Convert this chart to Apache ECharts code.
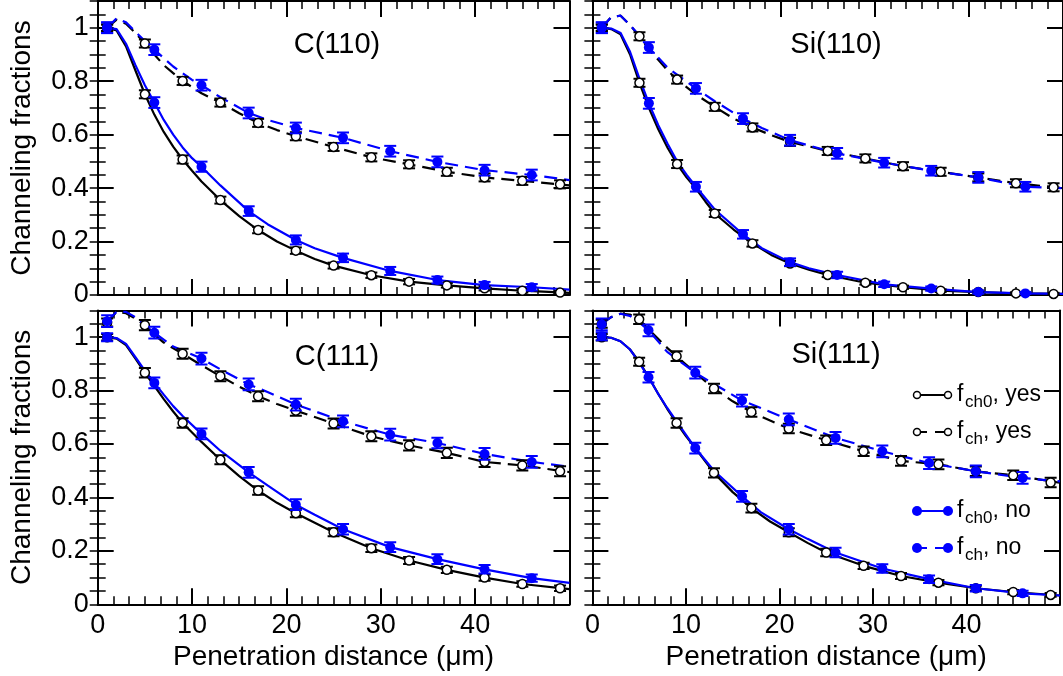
<!DOCTYPE html>
<html><head><meta charset="utf-8">
<script src="https://cdn.jsdelivr.net/npm/echarts@6/dist/echarts.min.js"></script>
<style>html,body{margin:0;padding:0;background:#fff}#c{width:1063px;height:676px}</style>
</head><body><div id="c"></div>
<script>
// ---------- DATA ----------
const panelTitles = ['C(110)', 'Si(110)', 'C(111)', 'Si(111)'];
const xAxisTitle = 'Penetration distance (\u03bcm)';
const yAxisTitle = 'Channeling fractions';
const legendSub = ['ch0', 'ch', 'ch0', 'ch'];
const legendWord = ['yes', 'yes', 'no', 'no'];

// markers: [x, y, err]
const c110_ch0Yes = [[1,1.000,.012],[5,.751,.015],[9,.507,.015],[13,.355,.013],[17,.243,.012],[21,.166,.012],[25,.110,.011],[29,.074,.010],[33,.050,.010],[37,.036,.008],[41,.025,.008],[45,.016,.007],[49,.009,.006]];
const c110_chYes  = [[1,1.000,.012],[5,.941,.015],[9,.801,.015],[13,.720,.015],[17,.644,.015],[21,.594,.015],[25,.554,.015],[29,.515,.015],[33,.489,.015],[37,.461,.015],[41,.440,.015],[45,.427,.015],[49,.414,.015]];
const c110_ch0No  = [[1,1.000,.020],[6,.720,.020],[11,.480,.019],[16,.314,.018],[21,.206,.017],[26,.139,.016],[31,.090,.015],[36,.056,.013],[41,.037,.012],[46,.029,.012]];
const c110_chNo   = [[1,1.000,.020],[6,.918,.020],[11,.785,.020],[16,.681,.020],[21,.625,.020],[26,.588,.020],[31,.538,.020],[36,.498,.020],[41,.467,.020],[46,.449,.020]];

const si110_ch0Yes = [[1,1.000,.012],[5,.794,.015],[9,.490,.015],[13,.305,.013],[17,.193,.012],[21,.118,.010],[25,.075,.008],[29,.046,.007],[33,.029,.006],[37,.016,.005],[41,.011,.005],[45,.006,.004],[49,.004,.004]];
const si110_chYes  = [[1,1.000,.012],[5,.968,.015],[9,.806,.015],[13,.704,.015],[17,.627,.015],[21,.573,.015],[25,.539,.015],[29,.511,.015],[33,.482,.015],[37,.461,.015],[41,.440,.015],[45,.418,.015],[49,.403,.015]];
const si110_ch0No  = [[1,1.000,.020],[6,.717,.020],[11,.405,.018],[16,.227,.016],[21,.123,.014],[26,.075,.012],[31,.040,.010],[36,.024,.008],[41,.011,.006],[46,.006,.005]];
const si110_chNo   = [[1,1.000,.020],[6,.926,.020],[11,.773,.020],[16,.660,.020],[21,.579,.020],[26,.530,.020],[31,.495,.018],[36,.465,.018],[41,.440,.020],[46,.405,.018]];

const c111_ch0Yes = [[1,1.000,.012],[5,.867,.018],[9,.679,.018],[13,.541,.017],[17,.426,.016],[21,.341,.015],[25,.270,.015],[29,.210,.014],[33,.164,.013],[37,.129,.012],[41,.100,.012],[45,.076,.010],[49,.060,.010]];
const c111_chYes  = [[1,1.055,.015],[5,1.045,.019],[9,.938,.019],[13,.854,.019],[17,.779,.019],[21,.725,.019],[25,.677,.019],[29,.629,.019],[33,.595,.019],[37,.567,.019],[41,.533,.019],[45,.520,.019],[49,.498,.019]];
const c111_ch0No  = [[1,1.000,.015],[6,.829,.020],[11,.638,.020],[16,.494,.020],[21,.373,.020],[26,.281,.020],[31,.214,.018],[36,.169,.018],[41,.131,.016],[46,.098,.014]];
const c111_chNo   = [[1,1.060,.022],[6,1.017,.022],[11,.920,.022],[16,.823,.022],[21,.748,.022],[26,.685,.022],[31,.635,.022],[36,.604,.020],[41,.563,.022],[46,.533,.022]];

const si111_ch0Yes = [[1,1.000,.012],[5,.908,.015],[9,.679,.018],[13,.492,.017],[17,.360,.016],[21,.270,.015],[25,.194,.014],[29,.144,.012],[33,.106,.011],[37,.081,.010],[41,.060,.009],[45,.046,.008],[49,.035,.007]];
const si111_chYes  = [[1,1.050,.015],[5,1.067,.018],[9,.929,.018],[13,.808,.018],[17,.720,.018],[21,.658,.018],[25,.614,.018],[29,.573,.018],[33,.537,.018],[37,.524,.018],[41,.498,.018],[45,.483,.018],[49,.456,.018]];
const si111_ch0No  = [[1,1.004,.015],[6,.850,.020],[11,.585,.020],[16,.404,.020],[21,.281,.020],[26,.194,.018],[31,.134,.016],[36,.094,.014],[41,.060,.012],[46,.041,.010]];
const si111_chNo   = [[1,1.048,.022],[6,1.026,.022],[11,.867,.022],[16,.763,.022],[21,.692,.022],[26,.623,.022],[31,.573,.022],[36,.529,.022],[41,.498,.022],[46,.473,.022]];

// curves: [x, y]
const c110_ch0YesLine = [[1,1.0],[2,.99],[3,.93],[4,.84],[5,.751],[6,.675],[7,.61],[8,.555],[9,.507],[10,.465],[11,.425],[12,.39],[13,.355],[15,.295],[17,.243],[19,.2],[21,.166],[23,.135],[25,.11],[29,.074],[33,.05],[37,.036],[41,.025],[45,.016],[50,.008]];
const c110_chYesLine  = [[1,1.0],[2,1.03],[3,1.015],[4,.98],[5,.941],[6,.9],[7,.86],[8,.83],[9,.801],[11,.755],[13,.72],[15,.68],[17,.644],[19,.617],[21,.594],[25,.554],[29,.515],[33,.489],[37,.461],[41,.44],[45,.427],[50,.41]];
const c110_ch0NoLine  = [[1,1.0],[2,.995],[3,.94],[4,.86],[5,.785],[6,.72],[7,.655],[8,.6],[9,.552],[10,.512],[11,.48],[13,.41],[16,.314],[18,.265],[21,.206],[23,.175],[26,.139],[31,.09],[36,.056],[41,.037],[46,.029],[50,.02]];
const c110_chNoLine   = [[1,1.0],[2,1.035],[3,1.02],[4,.985],[5,.95],[6,.918],[8,.855],[10,.805],[11,.785],[13,.74],[16,.681],[18,.655],[21,.625],[26,.588],[31,.538],[36,.498],[41,.467],[46,.449],[50,.43]];

const si110_ch0YesLine = [[1,1.0],[2,.995],[3,.975],[4,.9],[5,.794],[6,.7],[7,.62],[8,.55],[9,.49],[10,.44],[11,.398],[12,.35],[13,.305],[15,.245],[17,.193],[19,.15],[21,.118],[23,.095],[25,.075],[29,.046],[33,.029],[37,.016],[41,.011],[45,.006],[50,.004]];
const si110_chYesLine  = [[1,1.0],[2,1.04],[3,1.045],[4,1.01],[5,.968],[6,.92],[7,.88],[8,.84],[9,.806],[11,.75],[13,.704],[15,.66],[17,.627],[19,.598],[21,.573],[25,.539],[29,.511],[33,.482],[37,.461],[41,.44],[45,.418],[50,.4]];
const si110_ch0NoLine  = [[1,1.0],[2,.997],[3,.98],[4,.91],[5,.81],[6,.717],[7,.635],[8,.565],[9,.5],[10,.45],[11,.405],[13,.32],[16,.227],[18,.175],[21,.123],[23,.1],[26,.075],[31,.04],[36,.024],[41,.011],[46,.006],[50,.004]];
const si110_chNoLine   = [[1,1.0],[2,1.04],[3,1.045],[4,1.01],[5,.97],[6,.926],[8,.85],[11,.773],[13,.725],[16,.66],[18,.625],[21,.579],[26,.53],[31,.495],[36,.465],[41,.44],[46,.405],[50,.4]];

const c111_ch0YesLine = [[1,1.0],[2,.995],[3,.97],[4,.92],[5,.867],[6,.818],[7,.768],[8,.722],[9,.679],[11,.608],[13,.541],[15,.48],[17,.426],[19,.38],[21,.341],[25,.27],[29,.21],[33,.164],[37,.129],[41,.1],[45,.076],[50,.057]];
const c111_chYesLine  = [[1,1.055],[2,1.095],[3,1.09],[4,1.07],[5,1.045],[6,1.01],[7,.98],[9,.938],[11,.895],[13,.854],[15,.815],[17,.779],[19,.75],[21,.725],[25,.677],[29,.629],[33,.595],[37,.567],[41,.533],[45,.52],[50,.495]];
const c111_ch0NoLine  = [[1,1.0],[2,.997],[3,.975],[4,.925],[5,.875],[6,.829],[7,.785],[8,.742],[9,.705],[11,.638],[13,.575],[16,.494],[18,.445],[21,.373],[23,.335],[26,.281],[31,.214],[36,.169],[41,.131],[46,.098],[50,.08]];
const c111_chNoLine   = [[1,1.06],[2,1.095],[3,1.095],[4,1.075],[5,1.045],[6,1.017],[8,.965],[11,.92],[13,.88],[16,.823],[18,.795],[21,.748],[26,.685],[31,.635],[36,.604],[41,.563],[46,.533],[50,.515]];

const si111_ch0YesLine = [[1,1.0],[2,.998],[3,.985],[4,.955],[5,.908],[6,.852],[7,.79],[8,.732],[9,.679],[10,.63],[11,.585],[13,.492],[15,.42],[17,.36],[19,.31],[21,.27],[23,.23],[25,.194],[29,.144],[33,.106],[37,.081],[41,.06],[45,.046],[50,.033]];
const si111_chYesLine  = [[1,1.05],[2,1.075],[3,1.088],[4,1.085],[5,1.067],[6,1.03],[7,.995],[8,.96],[9,.929],[11,.867],[13,.808],[15,.76],[17,.72],[19,.688],[21,.658],[25,.614],[29,.573],[33,.537],[37,.524],[41,.498],[45,.483],[50,.455]];
const si111_ch0NoLine  = [[1,1.0],[2,.998],[3,.985],[4,.955],[5,.905],[6,.85],[7,.79],[8,.735],[9,.685],[11,.585],[13,.5],[16,.404],[18,.345],[21,.281],[23,.245],[26,.194],[31,.134],[36,.094],[41,.06],[46,.041],[50,.033]];
const si111_chNoLine   = [[1,1.05],[2,1.075],[3,1.088],[4,1.08],[5,1.055],[6,1.026],[8,.945],[11,.867],[13,.825],[16,.763],[18,.735],[21,.692],[26,.623],[31,.573],[36,.529],[41,.498],[46,.473],[50,.46]];

// ---------- BUILD ----------
const panels = [
  {pts:[c110_ch0Yes, c110_chYes, c110_ch0No, c110_chNo], lines:[c110_ch0YesLine, c110_chYesLine, c110_ch0NoLine, c110_chNoLine]},
  {pts:[si110_ch0Yes, si110_chYes, si110_ch0No, si110_chNo], lines:[si110_ch0YesLine, si110_chYesLine, si110_ch0NoLine, si110_chNoLine]},
  {pts:[c111_ch0Yes, c111_chYes, c111_ch0No, c111_chNo], lines:[c111_ch0YesLine, c111_chYesLine, c111_ch0NoLine, c111_chNoLine]},
  {pts:[si111_ch0Yes, si111_chYes, si111_ch0No, si111_chNo], lines:[si111_ch0YesLine, si111_chYesLine, si111_ch0NoLine, si111_chNoLine]}
];
const BLUE = '#0000ff';
const styles = [
  {color:'#000', dashed:false, open:true},
  {color:'#000', dashed:true, open:true},
  {color:BLUE, dashed:false, open:false},
  {color:BLUE, dashed:true, open:false}
];
const FONT = "'Liberation Sans', Arial, Helvetica, sans-serif";
const gridPos = [
  {left:97.7, top:1, width:471.8, height:294},
  {left:592.4, top:1, width:471.8, height:294},
  {left:97.7, top:310.5, width:471.8, height:293.8},
  {left:592.4, top:310.5, width:471.8, height:293.8}
];

const xAxes = [], yAxes = [], series = [];
const yFmt = v => {
  if (Math.abs(v) < 1e-9) return '0';
  if (Math.abs(v - 1) < 1e-9) return '1';
  if (v > 1.05) return '';
  return v.toFixed(1);
};
gridPos.forEach((gp, g) => {
  const bottomRow = g >= 2, leftCol = (g % 2) === 0;
  ['bottom', 'top'].forEach(pos => {
    const isB = pos === 'bottom';
    xAxes.push({
      gridIndex:g, type:'value', position:pos, min:0, max:50, interval:10,
      axisLine:{show:true, onZero:false, lineStyle:{color:'#000', width:2}},
      axisTick:{show:true, inside:true, length:16, lineStyle:{color:'#000', width:2}},
      minorTick:{show:true, splitNumber:6, length:8, lineStyle:{color:'#000', width:1.5}},
      splitLine:{show:false}, minorSplitLine:{show:false},
      axisLabel:{show: isB && bottomRow, fontSize:27, color:'#000', fontFamily:FONT, margin:8,
        formatter: v => (v >= 50 ? '' : String(v))},
      name: (isB && bottomRow) ? xAxisTitle : '',
      nameLocation:'middle', nameGap:39,
      nameTextStyle:{fontSize:28, color:'#000', fontFamily:FONT}
    });
  });
  ['left', 'right'].forEach(pos => {
    const isL = pos === 'left';
    yAxes.push({
      gridIndex:g, type:'value', position:pos, min:0, max:1.1, interval:0.2,
      axisLine:{show:true, onZero:false, lineStyle:{color:'#000', width:2}},
      axisTick:{show:true, inside:true, length:16, lineStyle:{color:'#000', width:2}},
      splitLine:{show:false},
      axisLabel:{show: isL && leftCol, fontSize:27, color:'#000', fontFamily:FONT, margin:9, formatter:yFmt},
      name: (isL && leftCol) ? yAxisTitle : '',
      nameLocation:'middle', nameGap:61, nameRotate:90,
      nameTextStyle:{fontSize:28, color:'#000', fontFamily:FONT}
    });
    yAxes.push({
      gridIndex:g, type:'value', position:pos, min:0, max:1.1, interval:0.05,
      axisLine:{show:false},
      axisTick:{show:true, inside:true, length:8, lineStyle:{color:'#000', width:1.5}},
      splitLine:{show:false}, axisLabel:{show:false}
    });
  });

  const xi = 2 * g, yi = 4 * g;
  const p = panels[g];
  styles.forEach((s, k) => {
    const blue = !s.open;
    series.push({
      type:'line', xAxisIndex:xi, yAxisIndex:yi, data:p.lines[k],
      showSymbol:false, symbol:'none', clip:true, silent:true, z:2 + (blue ? 1 : 0),
      lineStyle:{color:s.color, width:2.2, type: s.dashed ? [13, 7] : 'solid'}
    });
    series.push({
      type:'custom', xAxisIndex:xi, yAxisIndex:yi, data:p.pts[k], clip:true, silent:true,
      z: blue ? 6 : 4,
      encode:{x:0, y:1},
      renderItem:(params, api) => {
        const x = api.value(0), y = api.value(1), e = api.value(2);
        const t = api.coord([x, y + e]), b = api.coord([x, y - e]);
        const hw = 6, st = {stroke:s.color, lineWidth:2};
        return {type:'group', children:[
          {type:'line', shape:{x1:t[0], y1:t[1], x2:b[0], y2:b[1]}, style:st},
          {type:'line', shape:{x1:t[0]-hw, y1:t[1], x2:t[0]+hw, y2:t[1]}, style:st},
          {type:'line', shape:{x1:b[0]-hw, y1:b[1], x2:b[0]+hw, y2:b[1]}, style:st}
        ]};
      }
    });
    series.push({
      type:'scatter', xAxisIndex:xi, yAxisIndex:yi, data:p.pts[k].map(d => [d[0], d[1]]),
      symbol:'circle', symbolSize: s.open ? 9 : 10, silent:true, z: blue ? 7 : 5,
      itemStyle: s.open ? {color:'#ffffff', borderColor:'#000', borderWidth:1.5, opacity:1}
                        : {color:BLUE, borderWidth:0, opacity:1},
      emphasis:{disabled:true}
    });
  });
});

// titles + legend (graphic)
const graphics = [];
const titlePos = [[337, 44.5], [836, 44.5], [337, 356.5], [836, 355]];
panelTitles.forEach((t, i) => {
  graphics.push({type:'text', x:titlePos[i][0], y:titlePos[i][1], z:20,
    style:{text:t, fontSize:29, fontFamily:FONT, fill:'#000', align:'center', verticalAlign:'middle', textAlign:'center', textVerticalAlign:'middle'}});
});
const legendY = [395, 432, 511, 548];
styles.forEach((s, i) => {
  const y = legendY[i];
  graphics.push({type:'line', z:20, shape:{x1:917, y1:y, x2:948, y2:y},
    style:{stroke:s.color, lineWidth:2, lineDash: s.dashed ? [10, 8] : null}});
  [917, 948].forEach(cx => graphics.push({type:'circle', z:21, shape:{cx:cx, cy:y, r: s.open ? 3.5 : 5},
    style: s.open ? {fill:'#fff', stroke:'#000', lineWidth:1.5} : {fill:BLUE}}));
  graphics.push({type:'text', x:957, y:y, z:20, style:{text:'f', fontSize:23, fontFamily:FONT, fill:'#000', align:'left', verticalAlign:'middle', textAlign:'left', textVerticalAlign:'middle'}});
  graphics.push({type:'text', x:965, y:y + 7.7, z:20, style:{text:legendSub[i], fontSize:17, fontFamily:FONT, fill:'#000', align:'left', verticalAlign:'middle', textAlign:'left', textVerticalAlign:'middle'}});
  const subW = legendSub[i] === 'ch0' ? 27.5 : 18;
  graphics.push({type:'text', x:965 + subW, y:y, z:20, style:{text:', ' + legendWord[i], fontSize:23, fontFamily:FONT, fill:'#000', align:'left', verticalAlign:'middle', textAlign:'left', textVerticalAlign:'middle'}});
});

const chart = echarts.init(document.getElementById('c'), null, {renderer:'canvas'});
chart.setOption({
  animation:false,
  backgroundColor:'#fff',
  textStyle:{fontFamily:FONT},
  grid: gridPos.map(gp => Object.assign({containLabel:false}, gp)),
  xAxis: xAxes,
  yAxis: yAxes,
  series: series,
  graphic: graphics
});
</script></body></html>
